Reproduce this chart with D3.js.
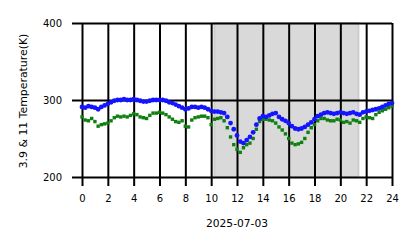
<!DOCTYPE html>
<html>
<head>
<meta charset="utf-8">
<script src="https://cdn.jsdelivr.net/npm/d3@7"></script>
<style>
  body { margin: 0; background: #fff; }
  svg { display: block; font-family: "DejaVu Sans", sans-serif; }
</style>
</head>
<body>
<svg></svg>
<script>
// 15-minute samples over the day
let hours = d3.range(0, 24.001, 0.25)

let blueTemps = [
  291, 290, 292, 291, 290, 288, 291, 293, 295, 297, 299, 300,
  300, 301, 300, 300, 301, 300, 299, 298, 298, 299, 300, 300,
  300, 300, 299, 297, 296, 294, 292, 290, 288, 289, 291, 291,
  290, 291, 290, 288, 286, 285, 285, 284, 283, 278, 270, 262,
  254, 246, 244, 248, 252, 258, 268, 276, 279, 278, 280, 282,
  283, 278, 275, 273, 270, 266, 263, 262, 263, 265, 268, 271,
  275, 279, 281, 283, 284, 283, 282, 283, 284, 283, 282, 283,
  284, 282, 281, 284, 285, 286, 287, 288, 289, 291, 293, 295, 296
]

let greenTemps = [
  278, 274, 273, 276, 272, 266, 268, 269, 270, 273, 277, 279,
  278, 279, 278, 280, 282, 281, 278, 277, 276, 280, 283, 283,
  284, 283, 281, 278, 275, 272, 271, 273, 266, 265, 274, 277,
  278, 279, 279, 277, 268, 275, 276, 277, 273, 264, 252, 242,
  236, 232, 238, 242, 244, 250, 262, 272, 275, 275, 274, 273,
  270, 265, 261, 256, 250, 244, 242, 243, 245, 250, 258, 264,
  268, 273, 276, 276, 274, 273, 273, 275, 274, 271, 272, 270,
  274, 273, 271, 276, 278, 277, 276, 281, 284, 286, 288, 290, 292
]

let shadeSpan = [10.25, 21.4]
let xTicks = d3.range(0, 25, 2)
let yTicks = [200, 300, 400]
let dateLabel = '2025-07-03'
let yLabel = '3.9 & 11 Temperature(K)'

let width = 418
let height = 248
let plotLeft = 82, plotRight = 392, plotTop = 23, plotBottom = 177

let svg = d3.select('svg')
    .attr('width', width)
    .attr('height', height)

let xScale = d3.scaleLinear().domain([0, 24]).range([plotLeft, plotRight])
let yScale = d3.scaleLinear().domain([200, 400]).range([plotBottom, plotTop])

// shaded span
svg.append('rect')
   .attr('x', xScale(shadeSpan[0]))
   .attr('y', plotTop)
   .attr('width', xScale(shadeSpan[1]) - xScale(shadeSpan[0]))
   .attr('height', plotBottom - plotTop)
   .attr('fill', '#d9d9d9')
   .attr('stroke', '#cdcdcd')
   .attr('stroke-width', 2)

// grid + ticks: long lines through the plot
let xAxis = d3.axisBottom(xScale)
    .tickValues(xTicks)
    .tickFormat(d3.format('d'))
    .tickSizeInner(-(plotBottom - plotTop) - 9)
    .tickSizeOuter(0)

let yAxis = d3.axisLeft(yScale)
    .tickValues(yTicks)
    .tickSizeInner(-(plotRight - plotLeft) - 10)
    .tickSizeOuter(0)

let gx = svg.append('g')
    .attr('transform', 'translate(0,' + (plotBottom + 9) + ')')
    .call(xAxis)
gx.select('.domain').remove()
gx.selectAll('line').attr('stroke', '#000').attr('stroke-width', 2)
gx.selectAll('text').attr('font-size', 10).attr('fill', '#000').attr('font-family', 'DejaVu Sans')
  .attr('y', 9)

let gy = svg.append('g')
    .attr('transform', 'translate(' + (plotLeft - 10) + ',0)')
    .call(yAxis)
gy.select('.domain').remove()
gy.selectAll('line').attr('stroke', '#000').attr('stroke-width', 2)
gy.selectAll('text').attr('font-size', 10).attr('fill', '#000').attr('font-family', 'DejaVu Sans')
  .attr('x', -10)

// data
svg.append('g')
   .selectAll('rect')
   .data(greenTemps)
   .enter()
   .append('rect')
   .attr('x', (d, i) => xScale(hours[i]) - 1.7)
   .attr('y', d => yScale(d) - 1.7)
   .attr('width', 3.4)
   .attr('height', 3.4)
   .attr('fill', '#0f800f')

svg.append('g')
   .selectAll('circle')
   .data(blueTemps)
   .enter()
   .append('circle')
   .attr('cx', (d, i) => xScale(hours[i]))
   .attr('cy', d => yScale(d))
   .attr('r', 2.4)
   .attr('fill', '#1414ff')

// labels
svg.append('text')
   .attr('x', (plotLeft + plotRight) / 2)
   .attr('y', 227)
   .attr('text-anchor', 'middle')
   .attr('font-size', 10.7)
   .text(dateLabel)

svg.append('text')
   .attr('transform', 'translate(27,' + ((plotTop + plotBottom) / 2 + 1) + ') rotate(-90)')
   .attr('text-anchor', 'middle')
   .attr('font-size', 10.9)
   .text(yLabel)
</script>
</body>
</html>
